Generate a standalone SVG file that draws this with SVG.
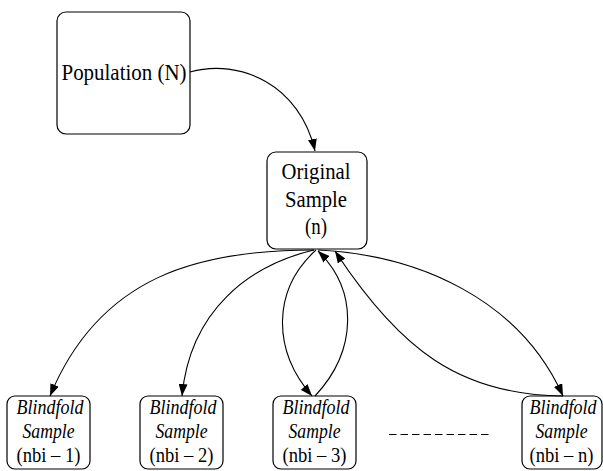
<svg xmlns="http://www.w3.org/2000/svg" width="603" height="471" viewBox="0 0 603 471">
<style>
.box{fill:#fff;stroke:#000;stroke-width:1.2}
.t{font-family:"Liberation Serif","Times New Roman",serif;fill:#000;text-anchor:middle}
.big{font-size:23.5px}
.sm{font-size:20px}
.it{font-style:italic}
.edge{fill:none;stroke:#000;stroke-width:1.1}
</style>
<defs>
<marker id="arr" markerUnits="userSpaceOnUse" markerWidth="12" markerHeight="9" refX="12" refY="4.5" orient="auto">
<path d="M0,0 L12,4.5 L0,9 z" fill="#000"/>
</marker>
</defs>
<rect width="603" height="471" fill="#fff"/>
<g id="population">
<rect class="box" x="57" y="12" width="133" height="122" rx="9"/>
<text class="t big" x="124" y="80" textLength="125" lengthAdjust="spacingAndGlyphs">Population (N)</text>
</g>
<g id="original">
<rect class="box" x="267" y="152" width="100" height="97" rx="9"/>
<text class="t big" x="316" y="179" textLength="69" lengthAdjust="spacingAndGlyphs">Original</text>
<text class="t big" x="316" y="206.5" textLength="62" lengthAdjust="spacingAndGlyphs">Sample</text>
<text class="t big" x="316" y="234" textLength="22" lengthAdjust="spacingAndGlyphs">(n)</text>
</g>
<g id="b1">
<rect class="box" x="7" y="396" width="83" height="73" rx="8"/>
<text class="t sm it" x="50" y="414" textLength="67" lengthAdjust="spacingAndGlyphs">Blindfold</text>
<text class="t sm it" x="48.5" y="438" textLength="52" lengthAdjust="spacingAndGlyphs">Sample</text>
<text class="t sm" x="48.5" y="462" textLength="64" lengthAdjust="spacingAndGlyphs">(nbi – 1)</text>
</g>
<g id="b2">
<rect class="box" x="140" y="396" width="83" height="73" rx="8"/>
<text class="t sm it" x="183" y="414" textLength="67" lengthAdjust="spacingAndGlyphs">Blindfold</text>
<text class="t sm it" x="181.5" y="438" textLength="52" lengthAdjust="spacingAndGlyphs">Sample</text>
<text class="t sm" x="181.5" y="462" textLength="64" lengthAdjust="spacingAndGlyphs">(nbi – 2)</text>
</g>
<g id="b3">
<rect class="box" x="273" y="396" width="83" height="73" rx="8"/>
<text class="t sm it" x="316" y="414" textLength="67" lengthAdjust="spacingAndGlyphs">Blindfold</text>
<text class="t sm it" x="314.5" y="438" textLength="52" lengthAdjust="spacingAndGlyphs">Sample</text>
<text class="t sm" x="314.5" y="462" textLength="64" lengthAdjust="spacingAndGlyphs">(nbi – 3)</text>
</g>
<g id="bn">
<rect class="box" x="522" y="396" width="80" height="73" rx="8"/>
<text class="t sm it" x="563" y="414" textLength="67" lengthAdjust="spacingAndGlyphs">Blindfold</text>
<text class="t sm it" x="561.5" y="438" textLength="52" lengthAdjust="spacingAndGlyphs">Sample</text>
<text class="t sm" x="561.5" y="462" textLength="64" lengthAdjust="spacingAndGlyphs">(nbi – n)</text>
</g>
<g id="connectors">
<path class="edge" d="M190,72 C240,58 300,85 315,151" marker-end="url(#arr)"/>
<path class="edge" d="M314,250 C200,250 100,275 50,396" marker-end="url(#arr)"/>
<path class="edge" d="M314,250 C250,265 190,310 182,396" marker-end="url(#arr)"/>
<path class="edge" d="M316,250 C272,290 272,350 312,396" marker-end="url(#arr)"/>
<path class="edge" d="M315,396 C358,350 358,290 318,251" marker-end="url(#arr)"/>
<path class="edge" d="M563,396 C460,395 400,350 335,251" marker-end="url(#arr)"/>
<path class="edge" d="M318,250 C420,255 520,300 563,396" marker-end="url(#arr)"/>
<line x1="389" y1="434.5" x2="489" y2="434.5" stroke="#000" stroke-width="1.2" stroke-dasharray="7.5 4"/>
</g>
</svg>
